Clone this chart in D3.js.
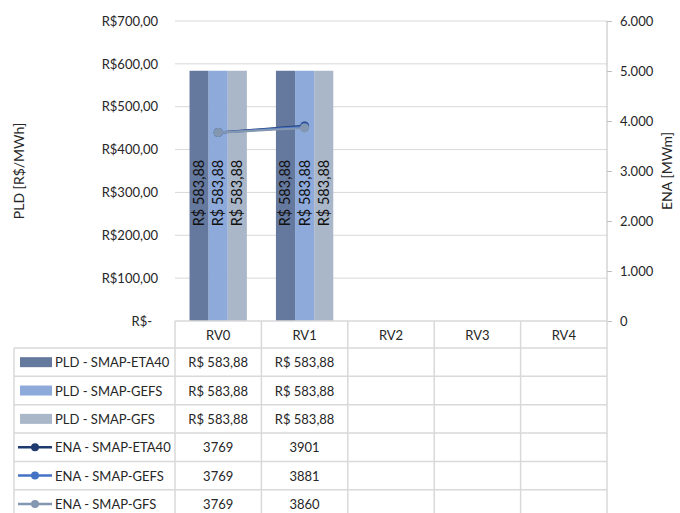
<!DOCTYPE html>
<html>
<head>
<meta charset="utf-8">
<script src="https://cdn.jsdelivr.net/npm/d3@7/dist/d3.min.js"></script>
<style>
  html, body { margin: 0; padding: 0; background: #fff; }
  svg { display: block; font-family: Lato, "Open Sans", sans-serif; }
</style>
</head>
<body>
<svg id="chart" width="680" height="513"></svg>
<script>
// Weekly revisions
const categories = ["RV0", "RV1", "RV2", "RV3", "RV4"];

// PLD (R$/MWh) per forecast model — bars
const pldSeries = ["PLD - SMAP-ETA40", "PLD - SMAP-GEFS", "PLD - SMAP-GFS"];
const pldEta40 = [583.88, 583.88, null, null, null];
const pldGefs  = [583.88, 583.88, null, null, null];
const pldGfs   = [583.88, 583.88, null, null, null];

// ENA (MWm) per forecast model — lines
const enaSeries = ["ENA - SMAP-ETA40", "ENA - SMAP-GEFS", "ENA - SMAP-GFS"];
const enaEta40 = [3769, 3901, null, null, null];
const enaGefs  = [3769, 3881, null, null, null];
const enaGfs   = [3769, 3860, null, null, null];

// Axis ticks
const pldTicks = [0, 100, 200, 300, 400, 500, 600, 700];
const enaTicks = [0, 1000, 2000, 3000, 4000, 5000, 6000];

const barColors  = ["#65789e", "#8eaadb", "#aab7c9"];
const lineColors = ["#1f3a6e", "#4472c4", "#8497b0"];

const svg = d3.select("#chart");
const plot = { left: 175, right: 607, top: 21, bottom: 321 };

const x = d3.scaleBand().domain(categories).range([plot.left, plot.right]);
const xInner = d3.scaleBand().domain(pldSeries).range([0, x.bandwidth()])
  .paddingInner(0).paddingOuter(0.76);
const yL = d3.scaleLinear().domain([0, 700]).range([plot.bottom, plot.top]);
const yR = d3.scaleLinear().domain([0, 6000]).range([plot.bottom, plot.top]);

const brl = v => "R$ " + d3.format(",.2f")(v).replace(/,/g, "#").replace(/\./g, ",").replace(/#/g, ".");
const leftFmt = v => v === 0 ? "R$-" : "R$" + d3.format(",.2f")(v).replace(/,/g, "#").replace(/\./g, ",").replace(/#/g, ".");
const rightFmt = v => d3.format(",")(v).replace(/,/g, ".");

// Gridlines
svg.append("g").selectAll("line").data(pldTicks.filter(t => t > 0)).join("line")
  .attr("x1", plot.left).attr("x2", plot.right)
  .attr("y1", d => yL(d)).attr("y2", d => yL(d))
  .attr("stroke", "#d9d9d9").attr("stroke-width", 1);

// Left axis labels
const leftAxis = svg.append("g").attr("transform", `translate(${plot.left},0)`)
  .call(d3.axisLeft(yL).tickValues(pldTicks).tickFormat(leftFmt).tickSize(0).tickPadding(17));
leftAxis.select(".domain").remove();
leftAxis.selectAll("text").attr("font-size", 13).attr("fill", "#262626")
  .attr("font-family", "Lato, sans-serif")
  .attr("dx", d => d === 0 ? -6 : 0);

// Right axis
const rightAxis = svg.append("g").attr("transform", `translate(${plot.right},0)`)
  .call(d3.axisRight(yR).tickValues(enaTicks).tickFormat(rightFmt).tickSize(5).tickPadding(8));
rightAxis.select(".domain").attr("stroke", "#bfbfbf").attr("d", `M0,${plot.top}V${plot.bottom}`);
rightAxis.selectAll(".tick line").attr("stroke", "#bfbfbf");
rightAxis.selectAll("text").attr("font-size", 13).attr("fill", "#262626")
  .attr("font-family", "Lato, sans-serif");

// Axis titles
svg.append("text").attr("transform", `translate(24,${(plot.top + plot.bottom) / 2}) rotate(-90)`)
  .attr("text-anchor", "middle").attr("font-size", 14).attr("fill", "#262626")
  .text("PLD [R$/MWh]");
svg.append("text").attr("transform", `translate(672,${(plot.top + plot.bottom) / 2}) rotate(-90)`)
  .attr("text-anchor", "middle").attr("font-size", 14).attr("fill", "#262626")
  .text("ENA [MWm]");

// Bars
const pldValues = [pldEta40, pldGefs, pldGfs];
const barData = [];
categories.forEach((c, i) => pldValues.forEach((vals, s) => {
  if (vals[i] != null) barData.push({ cat: c, series: pldSeries[s], s, v: vals[i] });
}));
const bars = svg.append("g");
bars.selectAll("rect").data(barData).join("rect")
  .attr("x", d => x(d.cat) + xInner(d.series))
  .attr("width", xInner.bandwidth())
  .attr("y", d => yL(d.v))
  .attr("height", d => yL(0) - yL(d.v))
  .attr("fill", d => barColors[d.s]);

// Bar value labels (rotated)
bars.selectAll("text").data(barData).join("text")
  .attr("transform", d => `translate(${x(d.cat) + xInner(d.series) + xInner.bandwidth() / 2 + 5},193) rotate(-90)`)
  .attr("text-anchor", "middle").attr("font-size", 14.5).attr("fill", "#111")
  .text(d => brl(d.v));

// ENA lines
const enaValues = [enaEta40, enaGefs, enaGfs];
const line = d3.line()
  .defined(d => d != null)
  .x((d, i) => x(categories[i]) + x.bandwidth() / 2)
  .y(d => yR(d));
enaValues.forEach((vals, s) => {
  const g = svg.append("g");
  g.append("path").datum(vals).attr("d", line)
    .attr("fill", "none").attr("stroke", lineColors[s]).attr("stroke-width", 2.25);
  g.selectAll("circle").data(vals.map((v, i) => ({ v, i })).filter(d => d.v != null)).join("circle")
    .attr("cx", d => x(categories[d.i]) + x.bandwidth() / 2)
    .attr("cy", d => yR(d.v))
    .attr("r", 4.5).attr("fill", lineColors[s]);
});

// Data table
const rowTop = plot.bottom;
const headerH = 27;
const rowH = 28.35;
const tableLeft = 14;
const rows = pldSeries.concat(enaSeries);
const table = svg.append("g");
const gridColor = "#d9d9d9";

// horizontal lines
table.append("line").attr("x1", plot.left).attr("x2", plot.right)
  .attr("y1", rowTop).attr("y2", rowTop).attr("stroke", gridColor).attr("stroke-width", 1.5);
for (let r = 0; r <= rows.length; r++) {
  const yy = rowTop + headerH + r * rowH;
  table.append("line").attr("x1", tableLeft).attr("x2", plot.right)
    .attr("y1", yy).attr("y2", yy).attr("stroke", gridColor).attr("stroke-width", 1.5);
}
// vertical lines
const bottomY = rowTop + headerH + rows.length * rowH;
table.append("line").attr("x1", tableLeft).attr("x2", tableLeft)
  .attr("y1", rowTop + headerH).attr("y2", bottomY).attr("stroke", gridColor).attr("stroke-width", 1.5);
categories.forEach(c => {
  table.append("line").attr("x1", x(c)).attr("x2", x(c))
    .attr("y1", rowTop).attr("y2", bottomY).attr("stroke", gridColor).attr("stroke-width", 1.5);
});
table.append("line").attr("x1", plot.right).attr("x2", plot.right)
  .attr("y1", rowTop).attr("y2", bottomY).attr("stroke", gridColor).attr("stroke-width", 1.5);

// header labels
table.selectAll("text.cat").data(categories).join("text").attr("class", "cat")
  .attr("x", d => x(d) + x.bandwidth() / 2).attr("y", rowTop + headerH / 2 + 5)
  .attr("text-anchor", "middle").attr("font-size", 13).attr("fill", "#262626")
  .text(d => d);

// legend keys and row labels
rows.forEach((name, r) => {
  const cy = rowTop + headerH + r * rowH + rowH / 2;
  if (r < 3) {
    table.append("rect").attr("x", 20).attr("y", cy - 5).attr("width", 32).attr("height", 10)
      .attr("fill", barColors[r]);
  } else {
    table.append("line").attr("x1", 18).attr("x2", 52).attr("y1", cy).attr("y2", cy)
      .attr("stroke", lineColors[r - 3]).attr("stroke-width", 2.5);
    table.append("circle").attr("cx", 35).attr("cy", cy).attr("r", 4).attr("fill", lineColors[r - 3]);
  }
  table.append("text").attr("x", 55).attr("y", cy + 5)
    .attr("font-size", 13).attr("fill", "#262626").text(name);
});

// cell values
const cellRows = [
  pldEta40.map(v => v == null ? "" : brl(v)),
  pldGefs.map(v => v == null ? "" : brl(v)),
  pldGfs.map(v => v == null ? "" : brl(v)),
  enaEta40.map(v => v == null ? "" : String(v)),
  enaGefs.map(v => v == null ? "" : String(v)),
  enaGfs.map(v => v == null ? "" : String(v))
];
cellRows.forEach((vals, r) => {
  const cy = rowTop + headerH + r * rowH + rowH / 2;
  vals.forEach((t, i) => {
    if (!t) return;
    table.append("text").attr("x", x(categories[i]) + x.bandwidth() / 2).attr("y", cy + 5)
      .attr("text-anchor", "middle").attr("font-size", 13).attr("fill", "#262626").text(t);
  });
});
</script>
</body>
</html>
